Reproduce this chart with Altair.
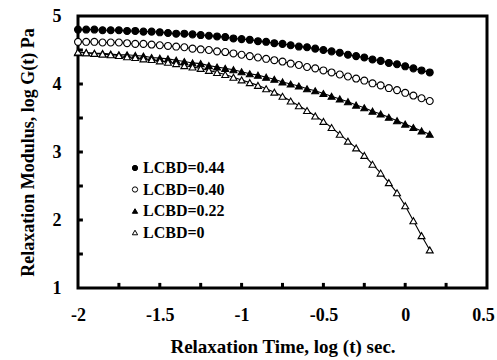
import altair as alt
import pandas as pd

log_t = [-2.00, -1.95, -1.90, -1.85, -1.80, -1.75, -1.70, -1.65, -1.60, -1.55,
         -1.50, -1.45, -1.40, -1.35, -1.30, -1.25, -1.20, -1.15, -1.10, -1.05,
         -1.00, -0.95, -0.90, -0.85, -0.80, -0.75, -0.70, -0.65, -0.60, -0.55,
         -0.50, -0.45, -0.40, -0.35, -0.30, -0.25, -0.20, -0.15, -0.10, -0.05,
         0.00, 0.05, 0.10, 0.15]

g_044 = [4.80, 4.80, 4.80, 4.79, 4.79, 4.79, 4.78, 4.78, 4.77, 4.77,
         4.76, 4.75, 4.74, 4.74, 4.73, 4.72, 4.71, 4.70, 4.69, 4.67,
         4.66, 4.65, 4.63, 4.62, 4.60, 4.59, 4.57, 4.55, 4.54, 4.52,
         4.50, 4.48, 4.46, 4.43, 4.41, 4.39, 4.36, 4.34, 4.31, 4.29,
         4.26, 4.23, 4.20, 4.17]
g_040 = [4.62, 4.62, 4.62, 4.61, 4.61, 4.61, 4.60, 4.59, 4.59, 4.58,
         4.57, 4.56, 4.55, 4.54, 4.52, 4.51, 4.50, 4.48, 4.47, 4.45,
         4.43, 4.41, 4.39, 4.37, 4.35, 4.33, 4.30, 4.28, 4.25, 4.23,
         4.20, 4.17, 4.14, 4.11, 4.08, 4.05, 4.01, 3.98, 3.94, 3.91,
         3.87, 3.83, 3.79, 3.75]
g_022 = [4.46, 4.46, 4.45, 4.45, 4.44, 4.43, 4.43, 4.42, 4.41, 4.39,
         4.38, 4.37, 4.35, 4.33, 4.31, 4.30, 4.27, 4.25, 4.23, 4.21,
         4.18, 4.15, 4.13, 4.10, 4.07, 4.03, 4.00, 3.97, 3.93, 3.90,
         3.86, 3.82, 3.78, 3.74, 3.69, 3.65, 3.60, 3.56, 3.51, 3.46,
         3.41, 3.36, 3.31, 3.26]
g_000 = [4.47, 4.46, 4.45, 4.44, 4.43, 4.42, 4.40, 4.39, 4.37, 4.36,
         4.34, 4.32, 4.30, 4.27, 4.25, 4.23, 4.20, 4.17, 4.14, 4.10,
         4.06, 4.02, 3.98, 3.93, 3.88, 3.82, 3.75, 3.68, 3.61, 3.53,
         3.45, 3.36, 3.26, 3.16, 3.06, 2.95, 2.82, 2.69, 2.55, 2.40,
         2.21, 1.99, 1.77, 1.56]

series_labels = ["LCBD=0.44", "LCBD=0.40", "LCBD=0.22", "LCBD=0"]
series_values = [g_044, g_040, g_022, g_000]
series_shapes = ["circle", "circle", "triangle-up", "triangle-up"]
series_fills = ["black", "white", "black", "white"]
series_strokes = ["black", "black", "black", "black"]

x_ticks = [-1.75, -1.5, -1.25, -1.0, -0.75, -0.5, -0.25, 0.0, 0.25]
y_ticks = [1.5, 2.0, 2.5, 3.0, 3.5, 4.0, 4.5]
x_labels = [-2, -1.5, -1, -0.5, 0, 0.5]
y_labels = [1, 2, 3, 4, 5]

rows = []
for lab, vals in zip(series_labels, series_values):
    for xv, yv in zip(log_t, vals):
        rows.append({"series": lab, "x": xv, "y": yv})
df = pd.DataFrame(rows)

FONT = "Liberation Serif"
x_title = "Relaxation Time, log (t) sec."
y_title = "Relaxation Modulus, log G(t) Pa"

xs = alt.Scale(domain=[-2, 0.5], nice=False, zero=False)
ys = alt.Scale(domain=[1, 5], nice=False, zero=False)

x_axis = alt.Axis(values=x_labels, grid=False, ticks=False, domain=False,
                  labelExpr="datum.value == 0 ? '0' : (datum.value < 0 ? '-' : '') + toString(abs(datum.value))",
                  labelPadding=18, titlePadding=13, labelFlush=False,
                  labelOffset={"condition": {"test": "datum.value >= 0.5", "value": -4}, "value": 0},
                  titleFontSize=19)
y_axis = alt.Axis(values=y_labels, grid=False, ticks=False, domain=False,
                  format="d", labelPadding=17, titlePadding=15,
                  titleFontSize=18)

legend = alt.Legend(title=None, orient="none", legendX=49, legendY=144,
                    labelFont=FONT, labelFontSize=16, labelFontWeight="bold",
                    labelColor="black", symbolSize=28, symbolStrokeColor="black",
                    symbolStrokeWidth=1, rowPadding=5.5, labelOffset=0,
                    padding=0)

lines = alt.Chart(df).mark_line(color="black", strokeWidth=1.1).encode(
    x=alt.X("x:Q", scale=xs, axis=x_axis, title=x_title),
    y=alt.Y("y:Q", scale=ys, axis=y_axis, title=y_title),
    detail="series:N",
)

points = alt.Chart(df).mark_point(filled=True, strokeWidth=1.1, size=48, opacity=1).encode(
    x=alt.X("x:Q", scale=xs, title=x_title),
    y=alt.Y("y:Q", scale=ys, title=y_title),
    shape=alt.Shape("series:N", scale=alt.Scale(domain=series_labels, range=series_shapes),
                    legend=legend, sort=series_labels),
    fill=alt.Fill("series:N", scale=alt.Scale(domain=series_labels, range=series_fills),
                  legend=legend, sort=series_labels),
    stroke=alt.Stroke("series:N", scale=alt.Scale(domain=series_labels, range=series_strokes),
                      legend=legend, sort=series_labels),
)

xt = alt.Chart(pd.DataFrame({"x": x_ticks})).mark_rule(color="black", strokeWidth=3).encode(
    x=alt.X("x:Q", scale=xs, title=x_title),
    y=alt.datum(1.0),
    y2=alt.datum(1.075),
)
yt = alt.Chart(pd.DataFrame({"y": y_ticks})).mark_rule(color="black", strokeWidth=3).encode(
    y=alt.Y("y:Q", scale=ys, title=y_title),
    x=alt.datum(-2.0),
    x2=alt.datum(-1.97),
)

chart = alt.layer(lines, points, xt, yt).properties(
    width=409, height=272,
    autosize=alt.AutoSizeParams(type="none"),
    padding={"left": 78, "top": 16, "right": 10, "bottom": 72},
    background="white",
).configure_view(
    stroke="black", strokeWidth=3
).configure_axis(
    labelFont=FONT, labelFontSize=18, labelFontWeight="bold", labelColor="black",
    titleFont=FONT, titleFontWeight="bold", titleColor="black",
)

chart.save("out.html", embed_options={"renderer": "svg", "actions": False})
